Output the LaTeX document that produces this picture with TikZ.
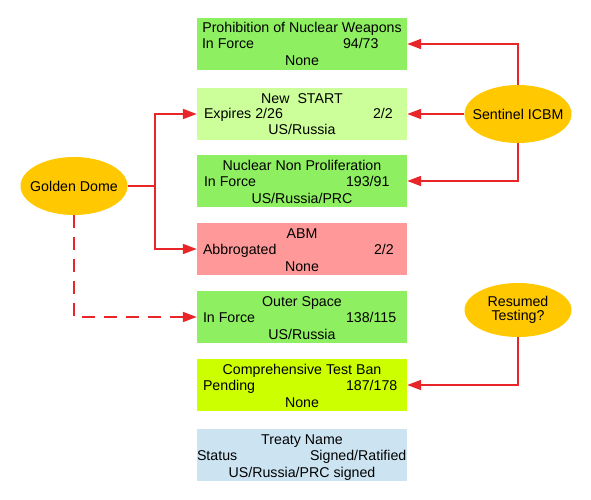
\documentclass[tikz,border=0pt]{standalone}
\usepackage{fontspec}
\setmainfont{Liberation Sans}
\usetikzlibrary{arrows.meta,shapes.geometric}
\definecolor{gA}{RGB}{142,240,96}
\definecolor{gB}{RGB}{204,255,153}
\definecolor{rA}{RGB}{255,153,153}
\definecolor{yA}{RGB}{204,255,0}
\definecolor{bA}{RGB}{204,228,242}
\definecolor{gold}{RGB}{255,200,0}
\definecolor{linkred}{RGB}{232,38,42}
\begin{document}
\begin{tikzpicture}[x=1pt,y=-1pt,
  treaty/.style={rectangle, minimum width=210pt, minimum height=52pt, inner sep=0pt},
  blob/.style={ellipse, fill=gold, minimum width=107pt, minimum height=58pt, inner sep=0pt,
    font=\fontsize{14.2}{15.5}\selectfont, align=center},
  txt/.style={font=\fontsize{14.2}{16}\selectfont, inner sep=0pt, text height=10pt, text depth=0pt},
  link/.style={draw=linkred, line width=1.8pt, -{Triangle[length=14pt,width=10pt]}},
  plain/.style={draw=linkred, line width=1.8pt},
  dashlink/.style={link, dash pattern=on 13pt off 9pt}
]
\useasboundingbox (0,0) rectangle (591,500);

% treaty boxes
\node[treaty, fill=gA] (b1) at (302,44) {};
\node[treaty, fill=gB] (b2) at (302,114) {};
\node[treaty, fill=gA] (b3) at (302,181) {};
\node[treaty, fill=rA] (b4) at (302,249) {};
\node[treaty, fill=gA] (b5) at (302,317) {};
\node[treaty, fill=yA] (b6) at (302,385) {};
\node[treaty, fill=bA] (b7) at (302,455) {};

% box texts
\node[txt] (b1a) at ([yshift=16pt]b1.center) {Prohibition of Nuclear Weapons};
\node[txt, anchor=west] (b1b) at ([xshift=5pt]b1.west) {In Force};
\node[txt, anchor=west] (b1c) at ([xshift=146pt]b1.west) {94/73};
\node[txt] (b1d) at ([yshift=-17pt]b1.center) {None};

\node[txt] (b2a) at ([yshift=16pt]b2.center) {New\ \ START};
\node[txt, anchor=west] (b2b) at ([xshift=7pt]b2.west) {Expires 2/26};
\node[txt, anchor=west] (b2c) at ([xshift=176pt]b2.west) {2/2};
\node[txt] (b2d) at ([yshift=-16pt]b2.center) {US/Russia};

\node[txt] (b3a) at ([yshift=16pt]b3.center) {Nuclear Non Proliferation};
\node[txt, anchor=west] (b3b) at ([xshift=7pt]b3.west) {In Force};
\node[txt, anchor=west] (b3c) at ([xshift=149pt]b3.west) {193/91};
\node[txt] (b3d) at ([yshift=-17pt]b3.center) {US/Russia/PRC};

\node[txt] (b4a) at ([yshift=16pt]b4.center) {ABM};
\node[txt, anchor=west] (b4b) at ([xshift=6pt]b4.west) {Abbrogated};
\node[txt, anchor=west] (b4c) at ([xshift=177pt]b4.west) {2/2};
\node[txt] (b4d) at ([yshift=-17pt]b4.center) {None};

\node[txt] (b5a) at ([yshift=16pt]b5.center) {Outer Space};
\node[txt, anchor=west] (b5b) at ([xshift=6pt]b5.west) {In Force};
\node[txt, anchor=west] (b5c) at ([xshift=149pt]b5.west) {138/115};
\node[txt] (b5d) at ([yshift=-17pt]b5.center) {US/Russia};

\node[txt] (b6a) at ([yshift=16pt]b6.center) {Comprehensive Test Ban};
\node[txt, anchor=west] (b6b) at ([xshift=6pt]b6.west) {Pending};
\node[txt, anchor=west] (b6c) at ([xshift=149pt]b6.west) {187/178};
\node[txt] (b6d) at ([yshift=-17pt]b6.center) {None};

\node[txt] (b7a) at ([yshift=16pt]b7.center) {Treaty Name};
\node[txt, anchor=west] (b7b) at ([xshift=0pt]b7.west) {Status};
\node[txt, anchor=west] (b7c) at ([xshift=113pt]b7.west) {Signed/Ratified};
\node[txt] (b7d) at ([yshift=-17pt]b7.center) {US/Russia/PRC signed};

% ellipses
\node[blob] (gd) at (74,186) {\makebox[0pt]{Golden Dome}};
\node[blob] (si) at (518,114) {\makebox[0pt]{Sentinel ICBM}};
\node[blob, minimum height=54pt] (rt) at (518,310) {\makebox[0pt]{\shortstack{Resumed\\[1pt]Testing?}}};

% connectors
\coordinate (j) at (155,186);
\draw[plain] (gd.east) -- (j);
\draw[link] (j) |- (b2.west);
\draw[link] (j) |- (b4.west);
\draw[dashlink] (gd.south) |- (b5.west);

\draw[link] (si.north) |- (b1.east);
\draw[link] (si.west) -- (b2.east);
\draw[link] (si.south) |- (b3.east);

\draw[link] (rt.south) |- (b6.east);
\end{tikzpicture}
\end{document}
